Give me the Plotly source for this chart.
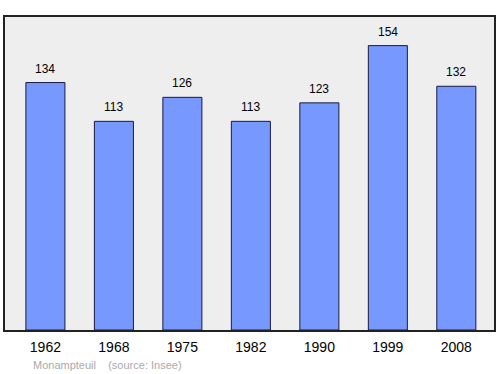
import plotly.graph_objects as go

years = ["1962", "1968", "1975", "1982", "1990", "1999", "2008"]
population = [134, 113, 126, 113, 123, 154, 132]
source_text = "Monampteuil    (source: Insee)"

xpos = list(range(len(years)))

fig = go.Figure()
fig.add_trace(go.Bar(
    x=xpos, y=population, width=0.57,
    marker=dict(color="#7799ff", line=dict(color="#1a1a40", width=1)),
    hoverinfo="skip",
))

for x, v in zip(xpos, population):
    fig.add_annotation(x=x, y=v, text=str(v), showarrow=False, yanchor="bottom",
                       yshift=5, font=dict(size=12, color="#000000",
                                           family="Liberation Sans, Arial, sans-serif"))

fig.add_annotation(xref="paper", yref="paper", x=0.053, y=-0.112, xanchor="left",
                   yanchor="middle", text=source_text.replace(" ", "&nbsp;"), showarrow=False,
                   font=dict(size=11, color="#aaaaaa", family="Liberation Sans, Arial, sans-serif"))

fig.update_layout(
    width=500, height=374,
    margin=dict(l=5, r=6, t=17, b=44),
    paper_bgcolor="#ffffff", plot_bgcolor="#eeeeee",
    showlegend=False, bargap=0.4,
    font=dict(family="Liberation Sans, Arial, sans-serif"),
)
fig.update_xaxes(range=[-0.59, 6.55], tickmode="array", tickvals=xpos, ticktext=years,
                 showgrid=False, zeroline=False, showline=True, linecolor="#222222",
                 linewidth=1.5, mirror=True, ticks="", ticklabelstandoff=3,
                 tickfont=dict(size=14, color="#000000"))
fig.update_yaxes(range=[0, 169.5], showticklabels=False, showgrid=False, zeroline=False,
                 showline=True, linecolor="#222222", linewidth=1.5, mirror=True, ticks="")

fig.write_html("out.html")
